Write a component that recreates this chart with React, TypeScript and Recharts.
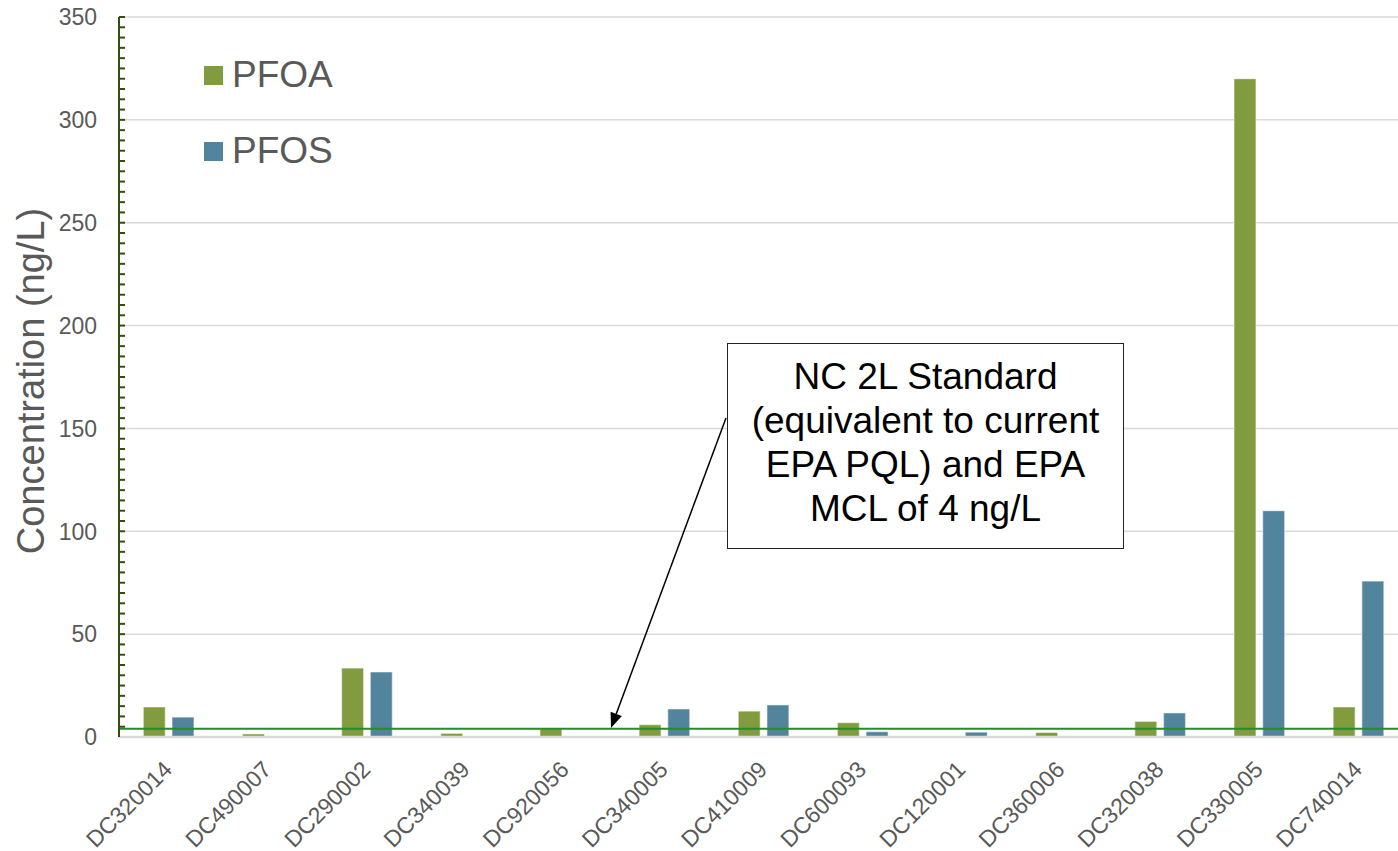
import React from 'react';
import { BarChart, Bar, XAxis, YAxis, CartesianGrid, Legend, ReferenceLine } from 'recharts';

const categories = ['DC320014', 'DC490007', 'DC290002', 'DC340039', 'DC920056', 'DC340005', 'DC410009', 'DC600093', 'DC120001', 'DC360006', 'DC320038', 'DC330005', 'DC740014'];
const pfoaValues: (number | null)[] = [14.6, 1.5, 33.5, 1.8, 4.1, 6.0, 12.6, 7.0, null, 2.2, 7.6, 320, 14.6];
const pfosValues: (number | null)[] = [9.7, null, 31.6, null, null, 13.6, 15.6, 2.6, 2.4, null, 11.7, 110, 75.8];
const majorTicks = [0, 50, 100, 150, 200, 250, 300, 350];
const minorTicks = Array.from({ length: 71 }, (_, i) => i * 5);
const standardValue = 4;

const data = categories.map((name, i) => ({ name, PFOA: pfoaValues[i], PFOS: pfosValues[i] }));

const FONT = '"Liberation Sans", Arial, sans-serif';
const GRAY = '#595959';
const GREEN = '#809c3e';
const BLUE = '#52859d';

const YTick = (props: any) => {
  const { x, y, payload } = props;
  const v = payload.value as number;
  const axisX = x + 22;
  return (
    <g>
      {v !== 0 && <line x1={axisX} x2={axisX + 6} y1={y} y2={y} stroke="#3a4a14" strokeWidth={2} />}
      {v % 50 === 0 && (
        <text x={x} y={y} dy="0.36em" textAnchor="end" fontSize={23} fill={GRAY} fontFamily={FONT}>
          {v}
        </text>
      )}
    </g>
  );
};

const XTick = (props: any) => {
  const { x, y, payload } = props;
  const tx = x + 5;
  const ty = y + 34;
  return (
    <text x={tx} y={ty} textAnchor="end" transform={`rotate(-45, ${tx}, ${ty})`} fontSize={23} fill={GRAY} fontFamily={FONT}>
      {payload.value}
    </text>
  );
};

const LegendContent = (props: any) => {
  const { payload } = props;
  return (
    <div style={{ fontFamily: FONT }}>
      {(payload || []).map((p: any) => (
        <div key={p.value} style={{ display: 'flex', alignItems: 'center', height: 38, marginBottom: 38 }}>
          <div style={{ width: 19, height: 19, background: p.color, marginRight: 9 }} />
          <span style={{ fontSize: 37, color: GRAY }}>{p.value}</span>
        </div>
      ))}
    </div>
  );
};

const YLabel = (props: any) => {
  const vb = props.viewBox || { x: 0, y: 17, width: 119, height: 720 };
  const lx = vb.x + 44;
  const ly = vb.y + vb.height / 2 + 4;
  return (
    <text x={lx} y={ly} textAnchor="middle" transform={`rotate(-90, ${lx}, ${ly})`} fontSize={38} fill={GRAY} fontFamily={FONT}>
      Concentration (ng/L)
    </text>
  );
};

export default function App() {
  return (
    <div style={{ position: 'absolute', left: 0, top: 0, width: 1398, height: 851, overflow: 'hidden', background: '#fff', fontFamily: FONT }}>
      <BarChart width={1410} height={851} data={data} margin={{ top: 17, right: 2, bottom: 0, left: 0 }} barCategoryGap="24.5%" barGap={6.7}>
        <CartesianGrid vertical={false} stroke="#d9d9d9" strokeWidth={1.5} horizontalValues={majorTicks} />
        <XAxis
          dataKey="name"
          height={114}
          interval={0}
          tickSize={0}
          tickMargin={0}
          tickLine={false}
          axisLine={{ stroke: '#d9d9d9', strokeWidth: 2.5 }}
          tick={XTick}
        />
        <YAxis
          width={119}
          domain={[0, 350]}
          ticks={minorTicks}
          interval={0}
          tickSize={0}
          tickMargin={22}
          tickLine={false}
          axisLine={{ stroke: '#3a4a14', strokeWidth: 2 }}
          tick={YTick}
          label={{ content: YLabel }}
        />
        <Legend
          layout="vertical"
          align="center"
          verticalAlign="middle"
          content={LegendContent}
          wrapperStyle={{ position: 'absolute', left: 204, top: 56, width: 'auto' }}
        />
        <Bar dataKey="PFOA" fill={GREEN} stroke="#ffffff" strokeOpacity={0.5} strokeWidth={1.2} isAnimationActive={false} />
        <Bar dataKey="PFOS" fill={BLUE} stroke="#ffffff" strokeOpacity={0.5} strokeWidth={1.2} isAnimationActive={false} />
        <ReferenceLine y={standardValue} stroke="#2a8a2a" strokeWidth={2} />
      </BarChart>
      <svg width={1398} height={851} style={{ position: 'absolute', left: 0, top: 0, pointerEvents: 'none' }}>
        <line x1={726} y1={418} x2={616.2} y2={713.9} stroke="#000" strokeWidth={1.5} />
        <polygon points="611,728 621.8,716 610.6,711.8" fill="#000" />
      </svg>
      <div
        style={{
          position: 'absolute',
          left: 727,
          top: 343,
          width: 397,
          height: 206,
          boxSizing: 'border-box',
          border: '1.5px solid #222',
          background: '#fff',
          textAlign: 'center',
          fontSize: 37,
          lineHeight: '44px',
          paddingTop: 11,
          color: '#000',
          fontFamily: FONT,
        }}
      >
        NC 2L Standard
        <br />
        (equivalent to current
        <br />
        EPA PQL) and EPA
        <br />
        MCL of 4 ng/L
      </div>
    </div>
  );
}
